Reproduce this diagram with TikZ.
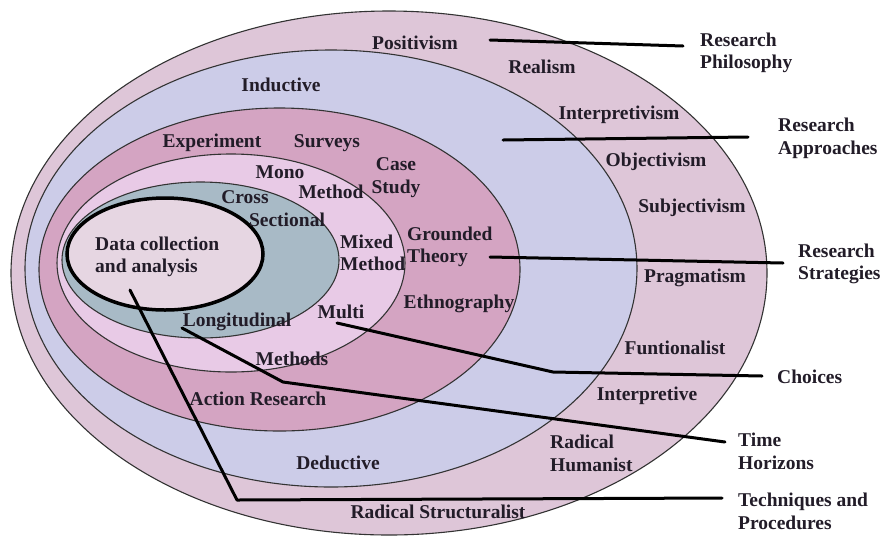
\documentclass[tikz,border=0pt]{standalone}
\usepackage{fontspec}
\setmainfont{Liberation Serif}
\definecolor{cphil}{RGB}{222,198,216}
\definecolor{cappr}{RGB}{204,204,232}
\definecolor{cstrat}{RGB}{212,164,194}
\definecolor{cchoice}{RGB}{232,202,230}
\definecolor{ctime}{RGB}{168,186,198}
\definecolor{cdata}{RGB}{230,214,226}
\definecolor{ctext}{RGB}{34,28,40}
\begin{document}
\begin{tikzpicture}[x=1pt,y=-1pt,
  ring/.style={draw=black!80, line width=1.1pt},
  lbl/.style={inner sep=0pt, font=\bfseries\fontsize{19.5}{22.5}\selectfont, text=ctext},
  lead/.style={line width=3pt, line join=round, line cap=round}]
\useasboundingbox (0,0) rectangle (888,539);
% layers
\draw[ring, fill=cphil]   (389,273)   ellipse [x radius=378pt, y radius=262pt];
\draw[ring, fill=cappr]   (331,268.5) ellipse [x radius=306pt, y radius=218.5pt];
\draw[ring, fill=cstrat]  (279.5,269.5) ellipse [x radius=240.5pt, y radius=161.5pt];
\draw[ring, fill=cchoice] (231,263)   ellipse [x radius=174pt, y radius=109pt];
\draw[ring, fill=ctime]   (200.5,260) ellipse [x radius=138.5pt, y radius=78pt];
\draw[line width=3.5pt, fill=cdata] (165,254) ellipse [x radius=98pt, y radius=56pt];
% labels inside
\node[lbl] (positivism) at (415,43) {Positivism};
\node[lbl] (realism) at (542,67) {Realism};
\node[lbl] (inductive) at (281,85) {Inductive};
\node[lbl] (interpretivism) at (619,115) {Interpretivism};
\node[lbl] (objectivism) at (656,162) {Objectivism};
\node[lbl] (subjectivism) at (692,208) {Subjectivism};
\node[lbl] (pragmatism) at (695,278) {Pragmatism};
\node[lbl] (funtionalist) at (675,348) {Funtionalist};
\node[lbl] (interpretive) at (647,396) {Interpretive};
\node[lbl, anchor=west, align=left] (radhum) at (550,453.5) {Radical\\Humanist};
\node[lbl] (radstruct) at (438,512) {Radical Structuralist};
\node[lbl] (deductive) at (338,463) {Deductive};
\node[lbl] (action) at (258,399) {Action Research};
\node[lbl] (methods) at (292,359) {Methods};
\node[lbl] (multi) at (341,312) {Multi};
\node[lbl] (longitudinal) at (237,322) {Longitudinal};
\node[lbl] (ethno) at (459,304) {Ethnography};
\node[lbl, anchor=west, align=left] (grounded) at (407,247) {Grounded\\Theory};
\node[lbl, anchor=west, align=left] (mixed) at (340,253) {Mixed\\Method};
\node[lbl, align=center] (casestudy) at (396,177.5) {Case\\Study};
\node[lbl] (experiment) at (212,143) {Experiment};
\node[lbl] (surveys) at (327,143) {Surveys};
\node[lbl] (mono) at (280,172) {Mono};
\node[lbl] (monomethod) at (331,192) {Method};
\node[lbl] (cross) at (245,197) {Cross};
\node[lbl] (sectional) at (287,220) {Sectional};
\node[lbl, anchor=west, align=left] (data) at (95,257) {Data collection\\and analysis};
% labels outside
\node[lbl, anchor=west, align=left] (rphil) at (700,53) {Research\\Philosophy};
\node[lbl, anchor=west, align=left] (rappr) at (778,138.5) {Research\\Approaches};
\node[lbl, anchor=west, align=left] (rstrat) at (798,264) {Research\\Strategies};
\node[lbl, anchor=west] (choices) at (777,377) {Choices};
\node[lbl, anchor=west, align=left] (thor) at (738,451.5) {Time\\Horizons};
\node[lbl, anchor=west, align=left] (tech) at (738,511.5) {Techniques and\\Procedures};
% connector points
\coordinate (a1) at (490,40);  \coordinate (a2) at (683,46);
\coordinate (b1) at (503,140); \coordinate (b2) at (748,137);
\coordinate (c1) at (490,257); \coordinate (c2) at (783,263);
\coordinate (d1) at (337,323); \coordinate (dk) at (553,372); \coordinate (d2) at (762,376);
\coordinate (e1) at (182,328); \coordinate (ek) at (283,382); \coordinate (e2) at (725,442);
\coordinate (f1) at (130,290); \coordinate (fk) at (237,500); \coordinate (f2) at (722,498);
\draw[lead] (a1) -- (a2);
\draw[lead] (b1) -- (b2);
\draw[lead] (c1) -- (c2);
\draw[lead] (d1) -- (dk) -- (d2);
\draw[lead] (e1) -- (ek) -- (e2);
\draw[lead] (f1) -- (fk) -- (f2);
\end{tikzpicture}
\end{document}
